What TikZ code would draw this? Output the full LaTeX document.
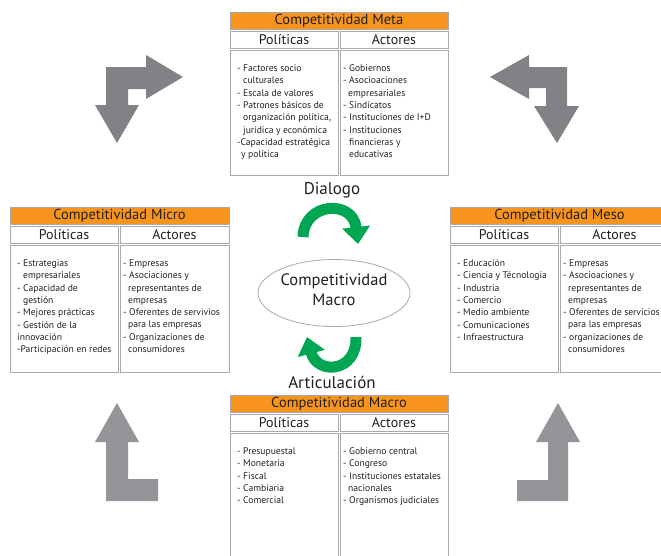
\documentclass[tikz,border=0pt]{standalone}
\usepackage{fontspec}
\setmainfont{PT Sans}
\usetikzlibrary{arrows.meta,shapes.geometric}
\definecolor{org}{HTML}{F7941E}
\definecolor{bord}{HTML}{A7A9AC}
\definecolor{txt}{HTML}{231F20}
\definecolor{grn}{HTML}{00A651}
\definecolor{gdark}{HTML}{808285}
\definecolor{glight}{HTML}{939598}
\tikzset{
  cellline/.style={draw=bord, line width=1pt},
  hdr/.style={font=\fontsize{14.5}{16}\selectfont, text=txt, inner sep=0pt},
  subh/.style={font=\fontsize{14}{16}\selectfont, text=txt, inner sep=0pt},
  body/.style={font=\fontsize{9.6}{12.3}\selectfont, text=txt, align=left, anchor=north west, inner sep=0pt},
  grayarrow/.style={fill=#1, draw=none},
  greenarrow/.style={draw=grn, line width=11pt, -{Triangle[width=27pt,length=17pt]}},
  label/.style={font=\fontsize{17}{18}\selectfont, text=txt, inner sep=0pt}
}
\newcommand\ind{\hspace*{6pt}}
% #1 name, #2 x0, #3 y0, #4 x1, #5 xm, #6 ybottom, #7 title
\newcommand\mktable[7]{%
  \draw[cellline, fill=org] (#2,#3) rectangle (#4,#3+17);
  \node[hdr] (#1-t) at ({(#2+#4)/2},#3+8.5) {Competitividad #7};
  \draw[cellline] (#2,#3+19) rectangle (#5,#3+36);
  \draw[cellline] (#5+2,#3+19) rectangle (#4,#3+36);
  \node[subh] (#1-p) at ({(#2+#5)/2},#3+27.5) {Políticas};
  \node[subh] (#1-a) at ({(#5+2+#4)/2},#3+27.5) {Actores};
  \draw[cellline] (#2,#3+38) rectangle (#5,#6);
  \draw[cellline] (#5+2,#3+38) rectangle (#4,#6);
}
\begin{document}
\begin{tikzpicture}[x=1pt,y=-1pt]
\useasboundingbox[fill=white] (0,0) rectangle (661,555);

% gray arrows
\path[grayarrow=gdark] (106,67) -- (146,67) -- (146,55) -- (183,77) -- (146,99) -- (146,89) -- (128,89) -- (128,105) -- (139,105) -- (117,143) -- (95,105) -- (106,105) -- cycle;
\path[grayarrow=gdark] (567,67) -- (529,67) -- (529,55) -- (490,77) -- (529,99) -- (529,88) -- (546,88) -- (546,106) -- (534,106) -- (557,143) -- (579,106) -- (567,106) -- cycle;
\path[grayarrow=glight] (117,403) -- (139,442) -- (128,442) -- (128,479) -- (158,479) -- (158,501) -- (106,501) -- (106,442) -- (95,442) -- cycle;
\path[grayarrow=glight] (558,403) -- (580,442) -- (568,442) -- (568,501) -- (517,501) -- (517,480) -- (548,480) -- (548,442) -- (536,442) -- cycle;

% tables
\mktable{meta}{230}{12}{448}{338}{175}{Meta}
\mktable{micro}{10}{207}{229}{118}{372}{Micro}
\mktable{meso}{450}{207}{669}{558}{372}{Meso}
\mktable{macro}{230}{395}{448}{338}{570}{Macro}

% meta texts
\node[body] (meta-pt) at (237,64.5) {- Factores socio\\\ind culturales\\- Escala de valores\\- Patrones básicos de\\\ind organización política,\\\ind jurídica y económica\\-Capacidad estratégica\\\hspace*{4pt}y política};
\node[body] (meta-at) at (343,64.5) {- Gobiernos\\- Asocioaciones\\\hspace*{5pt}empresariales\\- Sindicatos\\- Instituciones de I+D\\- Instituciones\\\ind financieras y\\\ind educativas};

% micro texts
\node[body] (micro-pt) at (17,259.5) {- Estrategias\\\ind empresariales\\- Capacidad de\\\ind gestión\\- Mejores prácticas\\- Gestión de la\\innovación\\-Participación en redes};
\node[body] (micro-at) at (123,259.5) {- Empresas\\- Asociaciones y\\\hspace*{5pt}representantes de\\\hspace*{5pt}empresas\\- Oferentes de servivios\\\hspace*{5pt}para las empresas\\- Organizaciones de\\\hspace*{5pt}consumidores};

% meso texts
\node[body] (meso-pt) at (457,259.5) {- Educación\\- Ciencia y Técnologia\\- Industria\\- Comercio\\- Medio ambiente\\- Comunicaciones\\- Infraestructura};
\node[body] (meso-at) at (563,259.5) {- Empresas\\- Asocioaciones y\\\hspace*{5pt}representantes de\\\hspace*{5pt}empresas\\- Oferentes de servicios\\\hspace*{5pt}para las empresas\\- organizaciones de\\\hspace*{5pt}consumidores};

% macro texts
\node[body] (macro-pt) at (237,447.5) {- Presupuestal\\- Monetaria\\- Fiscal\\- Cambiaria\\- Comercial};
\node[body] (macro-at) at (343,447.5) {- Gobierno central\\- Congreso\\- Instituciones estatales\\\hspace*{5pt}nacionales\\- Organismos judiciales};

% center
\node[ellipse, draw=bord, line width=0.8pt, minimum width=152pt, minimum height=67pt, inner sep=0pt] (ell) at (334,293) {};
\node[font=\fontsize{16.5}{20}\selectfont, text=txt, align=center, inner sep=0pt] (elltext) at (334,290) {Competitividad\\Macro};
\node[label] (dialogo) at (332,190) {Dialogo};
\node[label] (artic) at (332,382) {Articulación};

\coordinate (g1s) at (303,237);
\coordinate (g1e) at (358,244);
\draw[greenarrow] (g1s) .. controls (304,202) and (353,199) .. (g1e);
\coordinate (g2s) at (356,337);
\coordinate (g2e) at (307,337);
\draw[greenarrow] (g2s) .. controls (357,373) and (317,375) .. (g2e);
\end{tikzpicture}
\end{document}
